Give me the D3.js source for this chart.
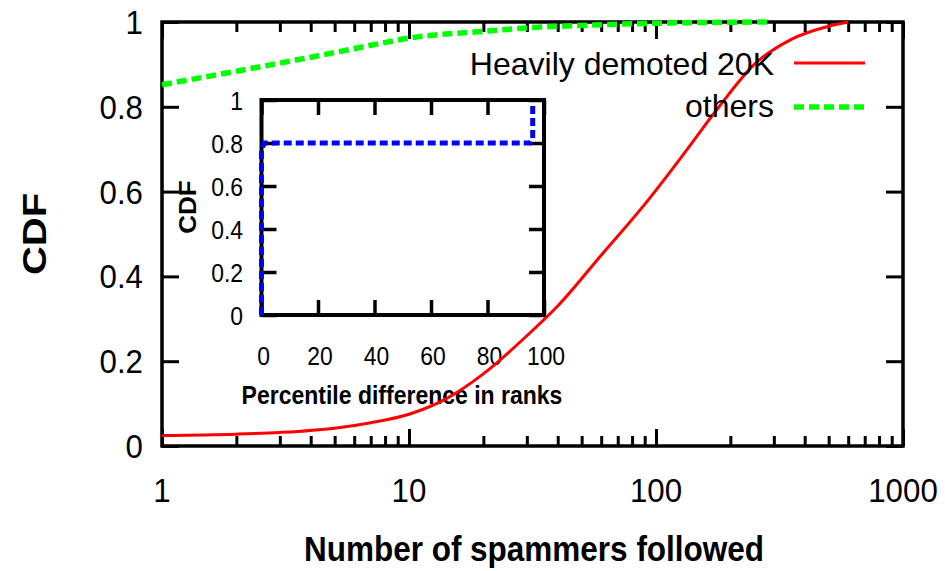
<!DOCTYPE html>
<html>
<head>
<meta charset="utf-8">
<script src="https://cdn.jsdelivr.net/npm/d3@7"></script>
<style>
  body { margin: 0; background: #fff; }
  svg text { font-family: "Liberation Sans", Arial, sans-serif; fill: #000; }
</style>
</head>
<body>
<svg width="945" height="571"></svg>
<script>
// main chart data
var redX = [1, 2, 3, 5, 7, 10, 14, 20, 30, 40, 60, 90, 130, 180, 250, 350, 500, 600];
var redY = [0.025, 0.028, 0.032, 0.042, 0.055, 0.075, 0.11, 0.17, 0.26, 0.33, 0.45, 0.57, 0.69, 0.8, 0.9, 0.958, 0.99, 1.0];
var greenX = [1, 2, 3, 5, 7, 10, 20, 30, 50, 100, 290];
var greenY = [0.852, 0.884, 0.903, 0.928, 0.945, 0.962, 0.978, 0.986, 0.992, 0.997, 1.0];
var xTicks = [1, 10, 100, 1000];
var yTicks = [0, 0.2, 0.4, 0.6, 0.8, 1];
var seriesNames = ["Heavily demoted 20K", "others"];

// inset data
var blueX = [0, 0, 1, 95, 96, 96];
var blueY = [0, 0.77, 0.8, 0.8, 0.82, 0.99];
var insetXTicks = [0, 20, 40, 60, 80, 100];
var insetYTicks = [0, 0.2, 0.4, 0.6, 0.8, 1];

var svg = d3.select("svg");

var x = d3.scaleLog().domain([1, 1000]).range([162, 903]);
var y = d3.scaleLinear().domain([0, 1]).range([446, 22]);

var ix = d3.scaleLinear().domain([0, 100]).range([261.5, 544]);
var iy = d3.scaleLinear().domain([0, 1]).range([315, 100]);

var minorTicks = [];
[1, 10, 100].forEach(function(d) {
  for (var k = 2; k <= 9; k++) minorTicks.push(d * k);
});

function label(g, txt, px, py, size, sx, anchor, bold, rot) {
  var t = g.append("text")
    .attr("transform", "translate(" + px + "," + py + ")" + (rot ? " rotate(-90) scale(1," + sx + ")" : " scale(" + sx + ",1)"))
    .attr("text-anchor", anchor)
    .style("font-size", size + "px")
    .text(txt);
  if (bold) t.style("font-weight", "bold");
  return t;
}

function styleAxis(g, w) {
  g.select(".domain").remove();
  g.selectAll("line").attr("stroke", "#000").attr("stroke-width", w);
}

// main frame + ticks
var main = svg.append("g");
main.append("g").attr("transform", "translate(0," + y(0) + ")")
  .call(d3.axisBottom(x).tickValues(xTicks).tickSize(-17).tickFormat("")).call(styleAxis, 3);
main.append("g").attr("transform", "translate(0," + y(0) + ")")
  .call(d3.axisBottom(x).tickValues(minorTicks).tickSize(-10).tickFormat("")).call(styleAxis, 3);
main.append("g").attr("transform", "translate(0," + y(1) + ")")
  .call(d3.axisTop(x).tickValues(xTicks).tickSize(-17).tickFormat("")).call(styleAxis, 3);
main.append("g").attr("transform", "translate(0," + y(1) + ")")
  .call(d3.axisTop(x).tickValues(minorTicks).tickSize(-10).tickFormat("")).call(styleAxis, 3);
main.append("g").attr("transform", "translate(" + x(1) + ",0)")
  .call(d3.axisLeft(y).tickValues(yTicks).tickSize(-17).tickFormat("")).call(styleAxis, 3);
main.append("g").attr("transform", "translate(" + x(1000) + ",0)")
  .call(d3.axisRight(y).tickValues(yTicks).tickSize(-17).tickFormat("")).call(styleAxis, 3);
main.append("rect")
  .attr("x", x(1)).attr("y", y(1))
  .attr("width", x(1000) - x(1)).attr("height", y(0) - y(1))
  .attr("fill", "none").attr("stroke", "#000").attr("stroke-width", 3.5);

yTicks.forEach(function(d) {
  label(main, d3.format("")(d), 143, y(d) + 12, 34, 0.92, "end");
});
xTicks.forEach(function(d) {
  label(main, d, x(d), 502, 34, 0.92, "middle");
});
label(main, "Number of spammers followed", 534, 561, 35, 0.9, "middle", true);
label(main, "CDF", 46, 234, 40, 0.85, "middle", true, true);

// inset
var inset = svg.append("g");
inset.append("rect")
  .attr("x", ix(0)).attr("y", iy(1))
  .attr("width", ix(100) - ix(0)).attr("height", iy(0) - iy(1))
  .attr("fill", "#fff");
inset.append("g").attr("transform", "translate(0," + iy(0) + ")")
  .call(d3.axisBottom(ix).tickValues(insetXTicks).tickSize(-15).tickFormat("")).call(styleAxis, 3.5);
inset.append("g").attr("transform", "translate(0," + iy(1) + ")")
  .call(d3.axisTop(ix).tickValues(insetXTicks).tickSize(-15).tickFormat("")).call(styleAxis, 3.5);
inset.append("g").attr("transform", "translate(" + ix(0) + ",0)")
  .call(d3.axisLeft(iy).tickValues(insetYTicks).tickSize(-15).tickFormat("")).call(styleAxis, 3.5);
inset.append("g").attr("transform", "translate(" + ix(100) + ",0)")
  .call(d3.axisRight(iy).tickValues(insetYTicks).tickSize(-15).tickFormat("")).call(styleAxis, 3.5);
inset.append("rect")
  .attr("x", ix(0)).attr("y", iy(1))
  .attr("width", ix(100) - ix(0)).attr("height", iy(0) - iy(1))
  .attr("fill", "none").attr("stroke", "#000").attr("stroke-width", 4);

insetYTicks.forEach(function(d) {
  label(inset, d3.format("")(d), 243, iy(d) + 9.5, 26, 0.88, "end");
});
insetXTicks.forEach(function(d) {
  label(inset, d, ix(d) + 2, 365, 26, 0.88, "middle");
});
label(inset, "Percentile difference in ranks", 402, 404, 25, 0.92, "middle", true);
label(inset, "CDF", 196, 207, 26, 0.93, "middle", true, true);

var blueLine = d3.line()
  .x(function(d, i) { return ix(blueX[i]); })
  .y(function(d, i) { return iy(blueY[i]); });
inset.append("path")
  .attr("d", blueLine(blueX))
  .attr("fill", "none").attr("stroke", "#0000ff")
  .attr("stroke-width", 5).attr("stroke-dasharray", "8,4");

// main curves
var line = function(xs, ys) {
  return d3.line()
    .curve(d3.curveMonotoneX)
    .x(function(d, i) { return x(xs[i]); })
    .y(function(d, i) { return y(ys[i]); })(xs);
};
svg.append("path")
  .attr("d", line(greenX, greenY))
  .attr("fill", "none").attr("stroke", "#00ff00")
  .attr("stroke-width", 5.5).attr("stroke-dasharray", "10,5");
svg.append("path")
  .attr("d", line(redX, redY))
  .attr("fill", "none").attr("stroke", "#ff0000")
  .attr("stroke-width", 3);

// legend
var legend = svg.append("g");
label(legend, seriesNames[0], 774, 75, 32, 1, "end");
label(legend, seriesNames[1], 774, 117, 32, 1, "end");
legend.append("line")
  .attr("x1", 794).attr("x2", 865).attr("y1", 63).attr("y2", 63)
  .attr("stroke", "#ff0000").attr("stroke-width", 3);
legend.append("line")
  .attr("x1", 794).attr("x2", 865).attr("y1", 107).attr("y2", 107)
  .attr("stroke", "#00ff00").attr("stroke-width", 5.5).attr("stroke-dasharray", "10,5");
</script>
</body>
</html>
